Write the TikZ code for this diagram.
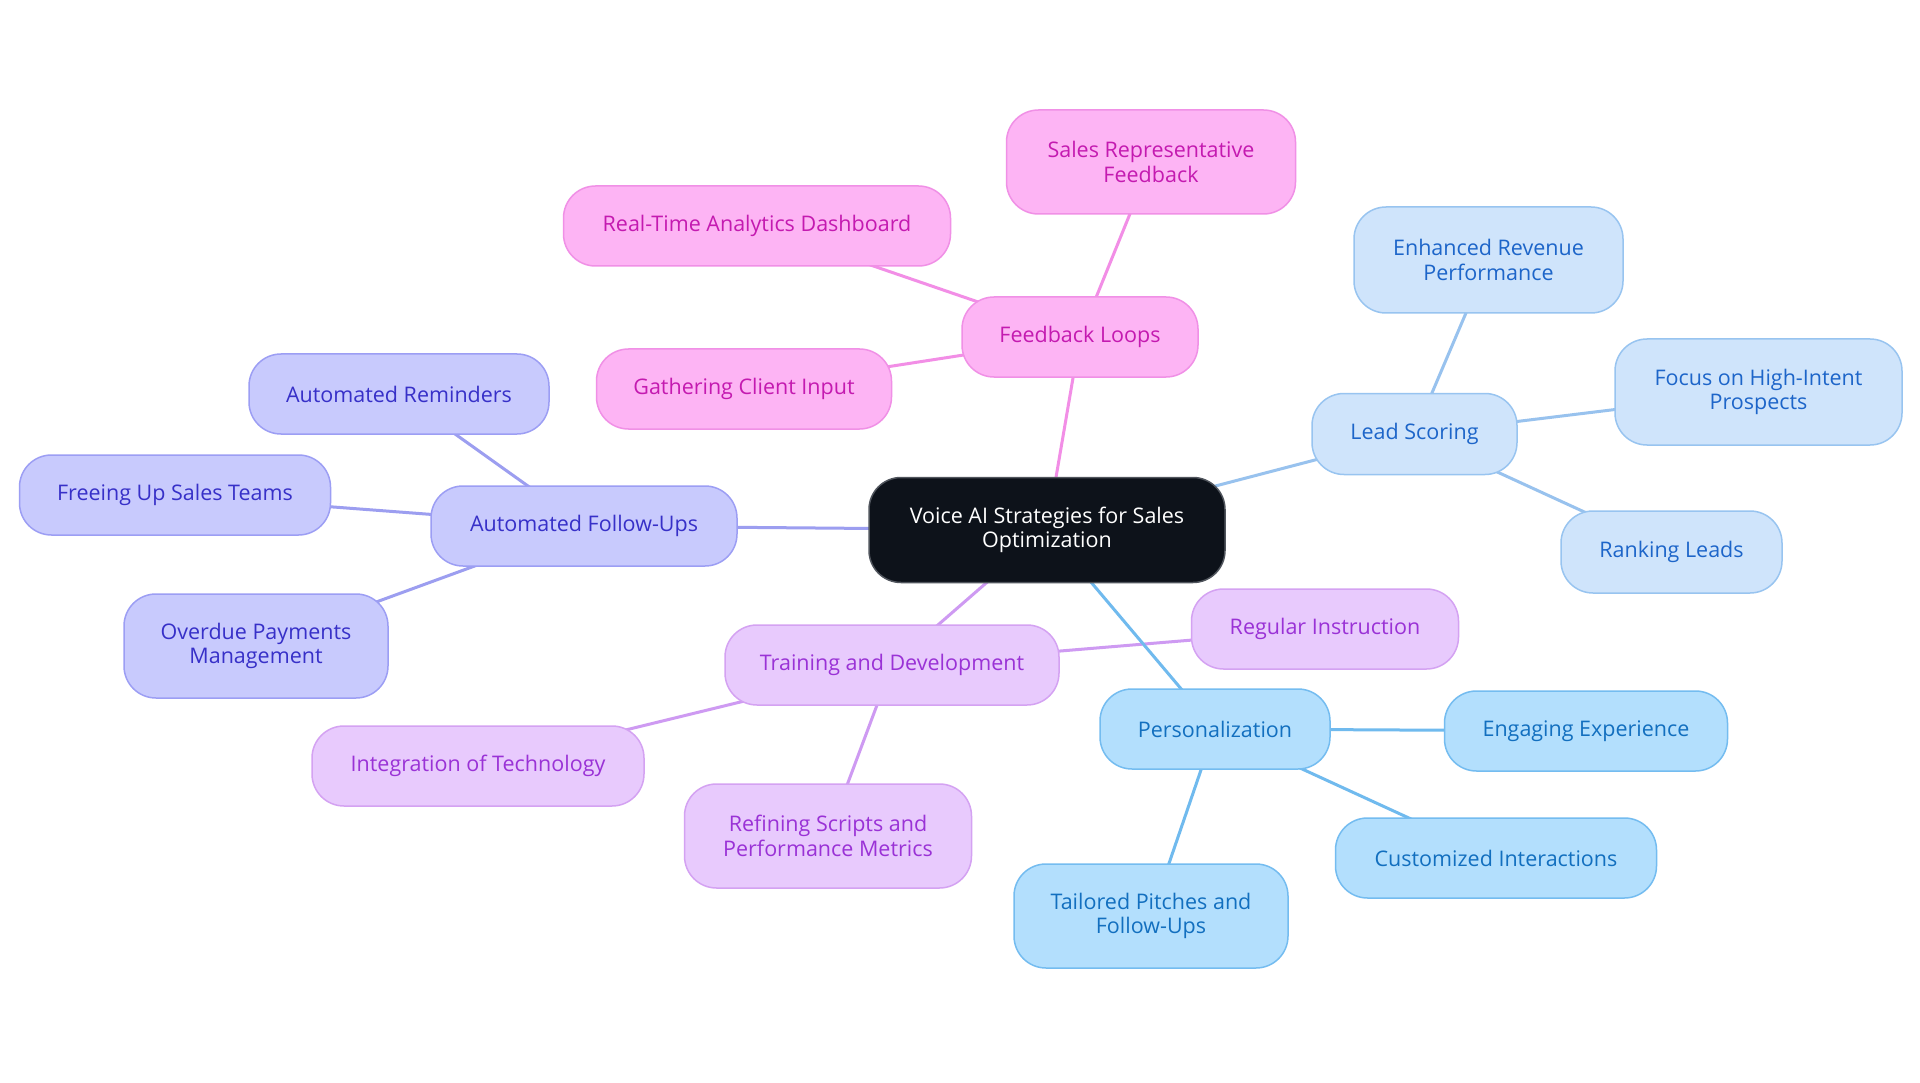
\documentclass[tikz,border=0pt]{standalone}
\usepackage{fontspec}
\setmainfont{Open Sans}
\usetikzlibrary{backgrounds}
\definecolor{pkF}{HTML}{FDB4F4}\definecolor{pkD}{HTML}{F090E6}\definecolor{pkT}{HTML}{C41AB0}\definecolor{pkE}{HTML}{F28EE6}
\definecolor{inF}{HTML}{C8CAFD}\definecolor{inD}{HTML}{9C9EF4}\definecolor{inT}{HTML}{3730C8}\definecolor{inE}{HTML}{9C9EF0}
\definecolor{puF}{HTML}{E8CAFD}\definecolor{puD}{HTML}{D4A2F2}\definecolor{puT}{HTML}{9A32D6}\definecolor{puE}{HTML}{CE9AF2}
\definecolor{lbF}{HTML}{CFE4FB}\definecolor{lbD}{HTML}{98C4F0}\definecolor{lbT}{HTML}{1D65C9}\definecolor{lbE}{HTML}{98C2EE}
\definecolor{skF}{HTML}{B3DFFD}\definecolor{skD}{HTML}{74BCF0}\definecolor{skT}{HTML}{126FBF}\definecolor{skE}{HTML}{70BAEE}
\definecolor{ctF}{HTML}{0D121A}\definecolor{ctD}{HTML}{50555D}
\tikzset{
  box/.style={rounded corners=32pt, line width=1.5pt, align=center, inner sep=0pt,
    font=\fontsize{21.5}{24.5}\selectfont},
  pkbox/.style={box, fill=pkF, draw=pkD, text=pkT},
  ibbox/.style={box, fill=inF, draw=inD, text=inT},
  pubox/.style={box, fill=puF, draw=puD, text=puT},
  lbbox/.style={box, fill=lbF, draw=lbD, text=lbT},
  skbox/.style={box, fill=skF, draw=skD, text=skT},
  ctbox/.style={box, fill=ctF, draw=ctD, text=white},
  link/.style={line width=3pt},
}
\begin{document}
\begin{tikzpicture}[x=1pt,y=-1pt]
\useasboundingbox (0,0) rectangle (1920,1083);
% center
\node[ctbox, minimum width=356pt, minimum height=105pt] (c) at (1047,530) {Voice AI Strategies for Sales\\Optimization};
% feedback branch
\node[pkbox, minimum width=236pt, minimum height=80pt] (fl) at (1080,337) {Feedback Loops};
\node[pkbox, minimum width=289pt, minimum height=104pt] (srf) at (1151,162) {Sales Representative\\Feedback};
\node[pkbox, minimum width=387pt, minimum height=80pt] (rta) at (757,226) {Real-Time Analytics Dashboard};
\node[pkbox, minimum width=295pt, minimum height=80pt] (gci) at (744,389) {Gathering Client Input};
% automated follow-ups branch
\node[ibbox, minimum width=306pt, minimum height=80pt] (afu) at (584,526) {Automated Follow-Ups};
\node[ibbox, minimum width=300pt, minimum height=80pt] (ar) at (399,394) {Automated Reminders};
\node[ibbox, minimum width=311pt, minimum height=80pt] (fst) at (175,495) {Freeing Up Sales Teams};
\node[ibbox, minimum width=264pt, minimum height=104pt] (opm) at (256,646) {Overdue Payments\\Management};
% training branch
\node[pubox, minimum width=334pt, minimum height=80pt] (td) at (892,665) {Training and Development};
\node[pubox, minimum width=267pt, minimum height=80pt] (ri) at (1325,629) {Regular Instruction};
\node[pubox, minimum width=332pt, minimum height=80pt] (iot) at (478,766) {Integration of Technology};
\node[pubox, minimum width=287pt, minimum height=104pt] (rsp) at (828,836) {Refining Scripts and\\Performance Metrics};
% personalization branch
\node[skbox, minimum width=230pt, minimum height=80pt] (pe) at (1215,729) {Personalization};
\node[skbox, minimum width=283pt, minimum height=80pt] (ee) at (1586,731) {Engaging Experience};
\node[skbox, minimum width=321pt, minimum height=80pt] (ci) at (1496,858) {Customized Interactions};
\node[skbox, minimum width=274pt, minimum height=104pt] (tp) at (1151,916) {Tailored Pitches and\\Follow-Ups};
% lead scoring branch
\node[lbbox, minimum width=205pt, minimum height=81pt] (ls) at (1414.5,434) {Lead Scoring};
\node[lbbox, minimum width=269pt, minimum height=106pt] (erp) at (1488.5,260) {Enhanced Revenue\\Performance};
\node[lbbox, minimum width=287pt, minimum height=106pt] (fhi) at (1758.5,392) {Focus on High-Intent\\Prospects};
\node[lbbox, minimum width=221pt, minimum height=82pt] (rl) at (1671.5,552) {Ranking Leads};
\begin{scope}[on background layer]
\fill[white] (0,0) rectangle (1920,1083);
\draw[link, pkE] (c.center) -- (fl.center);
\draw[link, pkE] (fl.center) -- (srf.center);
\draw[link, pkE] (fl.center) -- (rta.center);
\draw[link, pkE] (fl.center) -- (gci.center);
\draw[link, inE] (c.center) -- (afu.center);
\draw[link, inE] (afu.center) -- (ar.center);
\draw[link, inE] (afu.center) -- (fst.center);
\draw[link, inE] (afu.center) -- (opm.center);
\draw[link, puE] (c.center) -- (td.center);
\draw[link, puE] (td.center) -- (ri.center);
\draw[link, puE] (td.center) -- (iot.center);
\draw[link, puE] (td.center) -- (rsp.center);
\draw[link, skE] (c.center) -- (pe.center);
\draw[link, skE] (pe.center) -- (ee.center);
\draw[link, skE] (pe.center) -- (ci.center);
\draw[link, skE] (pe.center) -- (tp.center);
\draw[link, lbE] (c.center) -- (ls.center);
\draw[link, lbE] (ls.center) -- (erp.center);
\draw[link, lbE] (ls.center) -- (fhi.center);
\draw[link, lbE] (ls.center) -- (rl.center);
\end{scope}
\end{tikzpicture}
\end{document}
